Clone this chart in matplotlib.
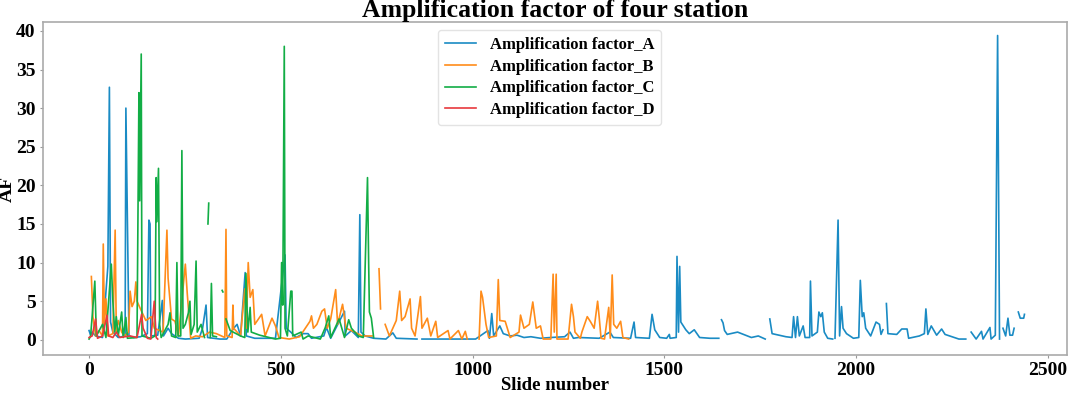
import numpy as np
import matplotlib
matplotlib.use("Agg")
import matplotlib.pyplot as plt

nan = np.nan

# Amplification factor per slide, station A (blue)
a_x = [0, 4, 8, 17, 35, 49, 53, 56, 62, 76, 94, 96, 104, 116, 134, 152, 156, 159, 161, 179,
       191, 194, 206, 215, 233, 251, 287, 296, 305, 309, 341, 359, 377, 386, 395, 407, 410, 432,
       486, 511, 514, 526, 540, 558, 571, 580, 612, 619, 630, 666, 668, 684, 702, 706, 709, 720,
       742, 774, 792, 801, 855, 861, 868, 936, 1008, 1040, 1044, 1050, 1055, 1071, 1080, 1098,
       1116, 1134, 1152, 1177, 1204, 1240, 1254, 1263, 1276, 1330, 1358, 1367, 1412, 1421, 1425,
       1461, 1468, 1475, 1488, 1506, 1513, 1515, 1531, 1533, 1537, 1540, 1543, 1556, 1565, 1578,
       1592, 1619, 1642, 1646, 1649, 1653, 1657, 1664, 1691, 1727, 1745, 1763, 1769, 1775, 1781,
       1817, 1833, 1837, 1842, 1847, 1852, 1862, 1867, 1879, 1881, 1885, 1899, 1903, 1908, 1912,
       1917, 1926, 1939, 1942, 1945, 1953, 1957, 1962, 1966, 1975, 1993, 2007, 2011, 2016, 2020,
       2025, 2038, 2052, 2061, 2065, 2070, 2074, 2079, 2083, 2106, 2119, 2133, 2137, 2165, 2178,
       2182, 2187, 2196, 2210, 2223, 2232, 2268, 2286, 2293, 2300, 2313, 2327, 2331, 2349, 2352,
       2363, 2369, 2374, 2378, 2383, 2390, 2396, 2401, 2408, 2412, 2417, 2423, 2428, 2437, 2439]
a_y = [1.2, 0.6, 1.0, 0.5, 0.3, 9.5, 32.7, 2.3, 1.0, 0.3, 0.5, 30.0, 0.5, 0.3, 0.4, 0.8, 15.5, 15.0, 0.5, 0.6,
       5.1, 0.5, 1.5, 0.8, 0.2, 0.1, 0.2, 1.5, 4.5, 0.3, 0.1, 0.1, 1.5, 2.0, 0.5, 8.7, 0.5, 0.2,
       0.2, 11.0, 1.5, 1.0, 0.3, 0.8, 0.8, 0.2, 0.5, 1.6, 0.2, 3.7, 0.5, 1.2, 0.3, 16.2, 1.0, 0.5,
       0.2, 0.1, 0.9, 0.2, 0.1, nan, 0.1, 0.1, 0.1, 1.2, 0.2, 3.4, 0.5, 1.8, 0.8, 0.5,
       0.6, 0.3, 0.4, 0.2, 0.3, 0.4, 1.0, 0.2, 0.3, 0.2, 1.0, 0.3, 0.2, 2.3, 0.3,
       0.2, 3.3, 1.3, 0.3, 0.2, 0.7, 0.2, 0.3, 10.8, 1.0, 9.5, 2.3, 1.3, 0.8, 1.3,
       0.3, 0.2, 0.2, nan, 2.6, 2.2, 1.2, 0.7, 1.0, 0.3, 0.5, 0.1, nan, 2.7, 0.8,
       0.4, 0.3, 3.0, 0.3, 3.0, 0.5, 1.8, 0.3, 0.3, 7.6, 0.5, 1.0, 3.6, 3.0, 3.5,
       1.0, 0.2, 0.1, nan, 0.2, 15.5, 0.5, 4.3, 1.5, 0.8, 0.2, 0.3, 7.7, 3.0, 3.5,
       1.5, 0.5, 2.3, 2.0, 0.7, 1.3, nan, 4.7, 0.8, 0.7, 1.4, 1.4, 0.2, 0.5, 0.8,
       4.0, 0.7, 1.8, 0.6, 1.4, 0.7, 0.1, 0.1, nan, 1.0, 0.1, 1.1, 0.1, 1.6, 0.1,
       0.6, 39.4, 0.1, nan, 1.5, 0.5, 2.8, 0.6, 0.6, 1.5, nan, 3.6, 2.8, 2.8, 3.3]

# station B (orange)
b_x = [6, 10, 17, 26, 35, 37, 40, 44, 49, 62, 68, 71, 76, 85, 92, 103, 107, 112, 118, 122,
       125, 134, 148, 163, 170, 193, 203, 206, 215, 224, 233, 251, 256, 265, 278, 296, 314, 332,
       354, 357, 359, 373, 375, 377, 395, 406, 410, 415, 420, 427, 432, 450, 459, 477, 486, 495,
       522, 549, 576, 580, 585, 594, 607, 614, 621, 630, 643, 648, 661, 670, 693, 711, 738, 747,
       756, 760, 766, 772, 783, 801, 810, 815, 824, 837, 841, 850, 864, 868, 882, 891, 904, 909,
       936, 941, 963, 972, 981, 986, 1000, 1017, 1022, 1026, 1035, 1042, 1062, 1067, 1071, 1085,
       1098, 1121, 1125, 1134, 1148, 1157, 1166, 1177, 1184, 1204, 1210, 1213, 1218, 1220, 1249,
       1258, 1263, 1267, 1281, 1285, 1299, 1308, 1317, 1326, 1330, 1335, 1344, 1355, 1359, 1364,
       1368, 1376, 1386, 1392, 1407]
b_y = [8.2, 3.0, 0.5, 1.2, 0.5, 12.4, 2.0, 5.3, 0.5, 0.8, 14.2, 1.0, 2.5, 1.0, 0.5, 1.0, 6.3, 4.3, 5.0, 7.5,
       5.0, 4.0, 2.5, 3.0, 1.5, 1.0, 14.2, 8.0, 2.7, 2.4, 0.5, 9.8, 6.0, 0.2, 0.5, 0.4, 1.0, 0.8,
       0.3, 14.3, 0.5, 0.3, 4.5, 1.5, 0.5, 6.6, 1.5, 10.0, 5.5, 6.5, 2.0, 3.3, 0.5, 2.8, 1.8, 0.3,
       0.1, 0.4, 2.4, 3.1, 1.5, 2.0, 3.7, 4.0, 1.5, 2.7, 6.5, 2.0, 4.6, 1.5, 1.0, 0.5, 0.5, nan,
       9.2, 4.0, nan, 2.0, 0.5, 2.5, 6.3, 2.5, 3.0, 5.3, 1.5, 0.5, 5.6, 1.5, 2.8, 0.5, 2.4, 0.3,
       1.2, 0.1, 1.2, 0.1, 1.1, 0.1, nan, 0.1, 6.3, 5.5, 2.0, 0.3, 0.5, 7.8, 2.5, 2.4,
       0.3, 1.0, 3.2, 1.5, 2.0, 4.9, 1.5, 1.8, 0.1, 0.1, 8.5, 1.0, 8.5, 0.1, 0.1,
       4.6, 3.0, 1.0, 0.2, 1.0, 3.0, 2.3, 1.5, 5.0, 3.0, 0.2, 0.1, 4.2, 0.2, 8.4,
       2.0, 1.5, 2.4, 0.3, 0.1]

# station C (green)
c_x = [0, 4, 8, 15, 19, 35, 44, 58, 62, 67, 71, 76, 85, 89, 96, 100, 125, 130, 132, 136,
       138, 161, 172, 175, 177, 181, 184, 188, 206, 211, 215, 226, 229, 232, 239, 242, 245, 251,
       259, 263, 266, 274, 279, 282, 292, 301, 305, 310, 312, 314, 316, 319, 322, 332, 340, 347,
       349, 352, 357, 368, 395, 406, 409, 414, 420, 423, 445, 486, 499, 502, 505, 509, 511, 517,
       526, 529, 531, 553, 558, 571, 603, 616, 625, 630, 652, 666, 677, 684, 702, 715, 726, 729,
       731, 736, 742]
c_y = [0.1, 0.5, 3.0, 7.6, 0.5, 2.0, 0.3, 9.8, 5.0, 1.0, 3.0, 0.5, 3.6, 0.3, 2.9, 0.2, 0.3, 32.0, 18.0, 37.0,
       0.5, 0.2, 0.5, 21.0, 15.3, 22.2, 2.0, 0.3, 2.0, 3.5, 0.5, 0.3, 10.0, 0.5, 0.5, 24.5, 1.5, 2.0,
       3.5, 5.0, 0.7, 2.0, 10.2, 1.0, 2.0, 0.3, nan, 15.0, 17.7, nan, 0.3, 7.3, 0.5, 0.4, nan, 6.4,
       6.2, nan, 2.7, 1.2, 0.5, 0.3, 8.6, 1.0, 4.2, 1.0, 0.6, 0.1, 0.2, 10.0, 4.5, 38.0, 1.5, 0.5,
       6.3, 6.3, 0.5, 1.0, 0.1, 0.5, 0.1, 1.6, 3.1, 0.3, 2.7, 0.3, 2.6, 1.5, 0.5, 0.3, 21.0, 10.0,
       3.6, 2.8, 0.3]

# station D (red)
d_x = [0, 8, 17, 22, 35, 47, 51, 62, 71, 80, 107, 125, 137, 141, 152, 161, 170, 175, 179]
d_y = [0.3, 0.5, 2.7, 0.2, 0.5, 3.2, 0.5, 0.3, 1.0, 0.3, 0.5, 0.3, 3.3, 1.5, 0.2, 0.1, 5.0, 0.3, 0.1]

labels = ["Amplification factor_A", "Amplification factor_B",
          "Amplification factor_C", "Amplification factor_D"]
colors = ["#1a8bc4", "#ff8c1a", "#12ad45", "#e8383d"]

plt.rcParams['font.family'] = ['Liberation Serif', 'DejaVu Serif']
plt.rcParams['font.weight'] = 'bold'

fig, ax = plt.subplots(figsize=(10.72, 3.93), dpi=100)
fig.subplots_adjust(left=0.0398, right=0.995, bottom=0.097, top=0.943)

for xs, ys, lab, col in zip([a_x, b_x, c_x, d_x], [a_y, b_y, c_y, d_y], labels, colors):
    ax.plot(xs, ys, color=col, linewidth=1.2, label=lab)

ax.set_xlim(-121, 2549)
ax.set_ylim(-1.95, 41.1)
ax.set_title("Amplification factor of four station", fontsize=18.5, fontweight='bold', pad=3)
ax.set_xlabel("Slide number", fontsize=13.5, fontweight='bold', labelpad=-1.5)
ax.set_ylabel("AF", fontsize=14, fontweight='bold')
ax.yaxis.set_label_coords(-0.0265, 0.5)
ax.set_xticks([0, 500, 1000, 1500, 2000, 2500])
ax.set_yticks(range(0, 41, 5))
ax.tick_params(labelsize=14, length=2, color='#999999', pad=3)
for s in ax.spines.values():
    s.set_color('#aaaaaa')
    s.set_linewidth(1.2)

leg = ax.legend(loc='upper left', bbox_to_anchor=(0.386, 0.977), borderaxespad=0,
                prop={'weight': 'bold', 'size': 12}, handlelength=1.9,
                labelspacing=0.35, frameon=True)
leg.get_frame().set_edgecolor('#dddddd')

fig.savefig("out.png", dpi=100)
